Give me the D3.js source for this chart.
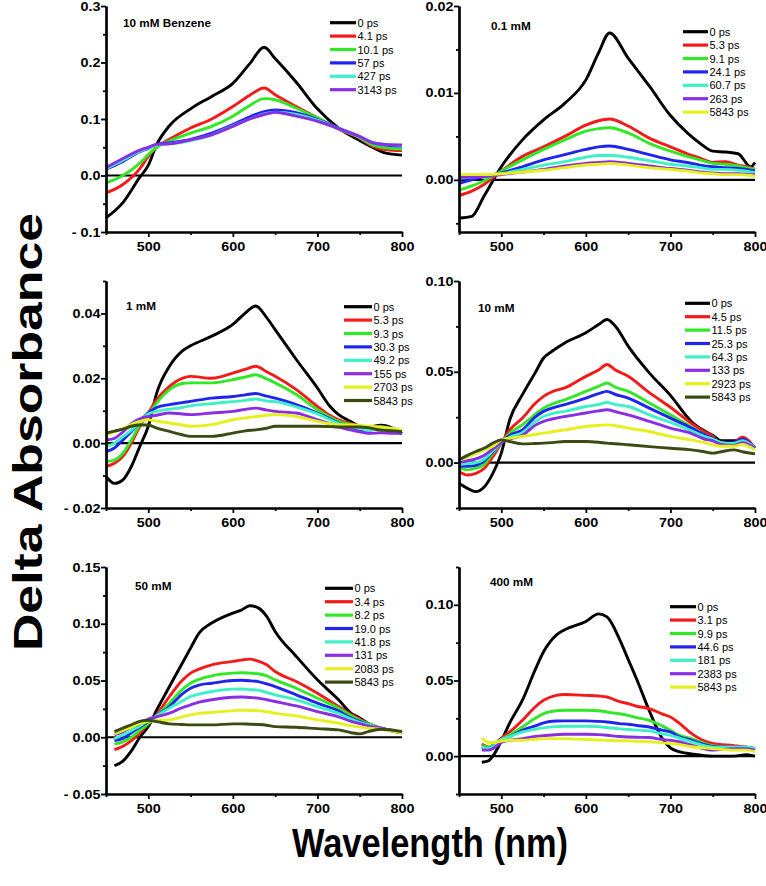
<!DOCTYPE html>
<html>
<head>
<meta charset="utf-8">
<script src="https://cdn.jsdelivr.net/npm/d3@7"></script>
<style>
  body { margin: 0; background: #fff; }
  svg { display: block; }
</style>
</head>
<body>
<div id="container"></div>
<script>
// trace colours, in legend order (0 ps first)
const traceColors = ["#000000", "#f51a1a", "#30e825", "#1f24ee", "#3ef0c6", "#8a2ee6", "#e6f01c", "#3a4a12"];

// 10 mM Benzene
const benzeneWl = [450,470,490,500,510,525,550,575,600,620,637,650,675,700,725,750,765,780,800];
const benzeneDelays = ["0 ps","4.1 ps","10.1 ps","57 ps","427 ps","3143 ps"];
const benzeneSpectra = [
  [-0.075,-0.048,-0.003,0.018,0.055,0.088,0.118,0.14,0.163,0.198,0.227,0.207,0.165,0.118,0.084,0.062,0.050,0.040,0.036],
  [-0.031,-0.016,0.012,0.034,0.05,0.064,0.084,0.1,0.122,0.142,0.155,0.143,0.122,0.102,0.082,0.066,0.052,0.046,0.044],
  [-0.013,0.0,0.022,0.037,0.05,0.061,0.075,0.087,0.105,0.124,0.136,0.134,0.119,0.102,0.083,0.067,0.054,0.049,0.047],
  [0.011,0.025,0.042,0.048,0.055,0.058,0.064,0.075,0.09,0.104,0.113,0.116,0.111,0.099,0.084,0.069,0.058,0.054,0.052],
  [0.012,0.027,0.043,0.049,0.054,0.056,0.062,0.072,0.088,0.1,0.109,0.112,0.108,0.098,0.083,0.069,0.058,0.055,0.053],
  [0.014,0.03,0.045,0.05,0.055,0.056,0.063,0.072,0.087,0.1,0.108,0.112,0.105,0.096,0.083,0.069,0.058,0.055,0.054]
];

// 0.1 mM
const mm01Wl = [450,465,480,500,525,550,575,600,615,628,650,675,700,720,735,750,765,780,795,800];
const mm01Delays = ["0 ps","5.3 ps","9.1 ps","24.1 ps","60.7 ps","263 ps","5843 ps"];
const mm01Spectra = [
  [-0.0044,-0.0042,-0.0018,0.0015,0.0046,0.0069,0.0088,0.0115,0.0146,0.0169,0.014,0.0108,0.0074,0.0054,0.0042,0.0033,0.0032,0.003,0.0015,0.002],
  [-0.0018,-0.0013,-0.0005,0.001,0.0027,0.0038,0.005,0.0063,0.0068,0.007,0.0062,0.0048,0.0038,0.003,0.0025,0.002,0.0021,0.0017,0.0014,0.0012],
  [-0.0012,-0.0007,-0.0001,0.001,0.0023,0.0035,0.0046,0.0056,0.0059,0.006,0.0054,0.0042,0.0033,0.0027,0.0023,0.0019,0.0018,0.0016,0.0013,0.0012],
  [-0.0004,0.0,0.0004,0.0008,0.0015,0.0023,0.0029,0.0035,0.0038,0.0039,0.0035,0.0029,0.0023,0.002,0.0017,0.0015,0.0014,0.0013,0.0011,0.001],
  [0.0002,0.0003,0.0005,0.0007,0.0012,0.0017,0.0021,0.0026,0.0028,0.0028,0.0026,0.0022,0.0018,0.0016,0.0014,0.0012,0.0012,0.0011,0.0009,0.0008],
  [0.0003,0.0003,0.0004,0.0006,0.0009,0.0012,0.0016,0.0019,0.002,0.0021,0.0019,0.0016,0.0013,0.0011,0.0009,0.0008,0.0007,0.0007,0.0006,0.0006],
  [0.0006,0.0006,0.0006,0.0007,0.0009,0.0011,0.0014,0.0017,0.0018,0.0019,0.0017,0.0014,0.0012,0.001,0.0008,0.0007,0.0006,0.0006,0.0005,0.0004]
];

// 1 mM
const mm1Wl = [450,460,470,480,490,500,510,525,540,550,575,600,615,627,640,650,675,700,715,725,740,750,760,775,790,800];
const mm1Delays = ["0 ps","5.3 ps","9.3 ps","30.3 ps","49.2 ps","155 ps","2703 ps","5843 ps"];
const mm1Spectra = [
  [-0.0103,-0.0124,-0.0113,-0.0072,-0.001,0.0052,0.0155,0.0237,0.0284,0.030,0.033,0.0366,0.0402,0.0423,0.0387,0.035,0.0258,0.017,0.0113,0.0088,0.0066,0.0052,0.005,0.0055,0.0045,0.003],
  [-0.0072,-0.0062,-0.0041,0.0,0.0052,0.0093,0.0134,0.0175,0.020,0.0206,0.020,0.0216,0.0228,0.0237,0.022,0.0206,0.0165,0.0113,0.0085,0.0072,0.006,0.0052,0.005,0.005,0.004,0.003],
  [-0.0057,-0.0052,-0.0031,0.001,0.0057,0.0088,0.0124,0.0165,0.0184,0.0186,0.0186,0.0196,0.0204,0.0211,0.0198,0.0186,0.015,0.0103,0.008,0.0067,0.0057,0.005,0.0048,0.005,0.004,0.003],
  [-0.0026,-0.0015,0.001,0.0036,0.0067,0.0093,0.011,0.0119,0.0125,0.0129,0.0139,0.0144,0.0149,0.0153,0.0145,0.0139,0.0119,0.0093,0.0075,0.0062,0.005,0.004,0.004,0.0045,0.0035,0.003],
  [-0.001,0.0,0.002,0.004,0.0065,0.009,0.0098,0.0105,0.011,0.0115,0.0122,0.0128,0.0132,0.0136,0.013,0.0128,0.0112,0.009,0.0072,0.006,0.005,0.0045,0.004,0.0045,0.0035,0.003],
  [0.001,0.0015,0.0035,0.006,0.0075,0.0082,0.0086,0.0093,0.009,0.0088,0.0093,0.0098,0.0104,0.0108,0.0102,0.0098,0.0093,0.0072,0.006,0.005,0.004,0.0035,0.003,0.0032,0.003,0.003],
  [0.0026,0.0035,0.0045,0.0058,0.0067,0.0072,0.0068,0.0062,0.0056,0.0052,0.0057,0.0072,0.0078,0.0082,0.0086,0.0088,0.0082,0.0067,0.006,0.0057,0.0056,0.0055,0.0052,0.005,0.0045,0.004],
  [0.0031,0.0037,0.0043,0.0052,0.0056,0.0056,0.0046,0.0036,0.0026,0.0021,0.0021,0.0031,0.0038,0.0041,0.0046,0.0052,0.0052,0.0052,0.0051,0.005,0.005,0.005,0.0048,0.004,0.0038,0.0035]
];

// 10 mM
const mm10Wl = [450,460,470,480,490,500,510,525,540,550,560,575,600,615,625,635,650,675,700,725,740,750,760,775,785,800];
const mm10Delays = ["0 ps","4.5 ps","11.5 ps","25.3 ps","64.3 ps","133 ps","2923 ps","5843 ps"];
const mm10Spectra = [
  [-0.0114,-0.0142,-0.016,-0.0133,-0.0059,0.0052,0.0236,0.0374,0.0494,0.0576,0.0613,0.0659,0.0715,0.076,0.0788,0.0751,0.0641,0.0494,0.037,0.0225,0.0175,0.015,0.012,0.012,0.013,0.008],
  [-0.005,-0.0068,-0.0059,-0.0031,0.0033,0.0107,0.018,0.0245,0.0325,0.0365,0.039,0.0411,0.0475,0.051,0.054,0.051,0.0475,0.0385,0.0305,0.0215,0.017,0.0145,0.01,0.011,0.014,0.008],
  [-0.0031,-0.004,-0.0031,-0.001,0.0052,0.0107,0.0162,0.0208,0.0265,0.030,0.0322,0.0346,0.0392,0.042,0.0438,0.0415,0.0392,0.0328,0.0263,0.0195,0.0155,0.0135,0.011,0.01,0.012,0.008],
  [-0.002,-0.002,-0.0015,0.001,0.006,0.011,0.015,0.018,0.025,0.0282,0.030,0.0319,0.0355,0.038,0.0392,0.0375,0.0355,0.030,0.0245,0.019,0.0155,0.0135,0.011,0.011,0.013,0.008],
  [-0.001,-0.0005,0.0,0.002,0.0065,0.011,0.014,0.0165,0.0225,0.0254,0.027,0.0282,0.0309,0.032,0.0331,0.032,0.0309,0.0263,0.0221,0.0175,0.0145,0.013,0.011,0.0105,0.012,0.008],
  [0.0,0.001,0.002,0.004,0.0075,0.011,0.013,0.015,0.0205,0.0227,0.024,0.0254,0.0273,0.0285,0.0291,0.028,0.0263,0.0227,0.019,0.016,0.013,0.012,0.01,0.0095,0.011,0.008],
  [0.0015,0.003,0.005,0.007,0.009,0.0125,0.0135,0.0144,0.0155,0.0162,0.017,0.018,0.0199,0.0205,0.0208,0.0203,0.019,0.0171,0.0144,0.0125,0.011,0.0098,0.009,0.009,0.01,0.007],
  [0.0015,0.004,0.0061,0.008,0.0107,0.0125,0.0116,0.0103,0.0105,0.0107,0.011,0.0116,0.0116,0.0112,0.0107,0.0104,0.0098,0.0088,0.0079,0.007,0.006,0.0052,0.006,0.007,0.006,0.0048]
];

// 50 mM
const mm50Wl = [460,470,480,490,500,510,525,540,550,560,575,600,610,620,630,640,650,675,700,725,740,750,760,775,800];
const mm50Delays = ["0 ps","3.4 ps","8.2 ps","19.0 ps","41.8 ps","131 ps","2083 ps","5843 ps"];
const mm50Spectra = [
  [-0.025,-0.021,-0.012,0.0,0.0094,0.024,0.0447,0.065,0.0785,0.0918,0.1006,0.1094,0.112,0.1159,0.114,0.1065,0.0932,0.0712,0.0506,0.033,0.021,0.017,0.012,0.008,0.004],
  [-0.011,-0.008,-0.003,0.004,0.012,0.02,0.0359,0.05,0.0565,0.06,0.0638,0.0668,0.068,0.0688,0.067,0.0638,0.0579,0.0491,0.0388,0.0271,0.02,0.016,0.012,0.008,0.004],
  [-0.006,-0.004,0.0,0.006,0.012,0.019,0.030,0.042,0.0476,0.051,0.0541,0.0565,0.0568,0.0565,0.056,0.054,0.0506,0.0432,0.0344,0.0256,0.019,0.015,0.012,0.008,0.004],
  [-0.003,-0.001,0.004,0.009,0.014,0.019,0.027,0.038,0.0432,0.046,0.0476,0.050,0.0502,0.0498,0.049,0.047,0.0447,0.0374,0.030,0.023,0.017,0.014,0.011,0.008,0.004],
  [-0.001,0.002,0.006,0.01,0.015,0.019,0.0256,0.032,0.0359,0.038,0.0403,0.0424,0.0425,0.042,0.0415,0.0395,0.0374,0.033,0.027,0.021,0.016,0.013,0.011,0.008,0.004],
  [0.002,0.005,0.009,0.012,0.016,0.018,0.0212,0.026,0.0285,0.031,0.033,0.0353,0.0355,0.035,0.0345,0.033,0.0315,0.0276,0.0226,0.018,0.014,0.012,0.01,0.008,0.004],
  [0.003,0.006,0.009,0.012,0.014,0.0148,0.0153,0.018,0.0197,0.021,0.0218,0.0235,0.0237,0.0236,0.0235,0.0225,0.0212,0.0188,0.0153,0.0124,0.01,0.009,0.008,0.007,0.004],
  [0.005,0.008,0.011,0.014,0.015,0.0138,0.0118,0.0112,0.0109,0.0109,0.0109,0.0118,0.0118,0.0115,0.0112,0.0106,0.0094,0.0088,0.0076,0.0065,0.004,0.003,0.005,0.007,0.005]
];

// 400 mM
const mm400Wl = [477,485,490,500,510,525,540,550,565,575,600,615,625,640,650,660,675,690,700,710,725,750,775,790,800];
const mm400Delays = ["0 ps","3.1 ps","9.9 ps","44.6 ps","181 ps","2383 ps","5843 ps"];
const mm400Spectra = [
  [-0.004,-0.003,0.0,0.01,0.022,0.037,0.057,0.069,0.08,0.0835,0.089,0.094,0.092,0.077,0.064,0.051,0.03,0.012,0.0055,0.003,0.0015,0.0,0.0,0.001,0.0],
  [0.008,0.006,0.007,0.012,0.016,0.0237,0.0325,0.0369,0.0402,0.0407,0.0402,0.0398,0.0391,0.036,0.0347,0.033,0.0314,0.028,0.0259,0.022,0.0149,0.0084,0.007,0.006,0.005],
  [0.007,0.006,0.007,0.011,0.014,0.0193,0.025,0.0281,0.030,0.0303,0.0303,0.030,0.0292,0.028,0.027,0.0255,0.0237,0.02,0.0171,0.014,0.0116,0.007,0.006,0.006,0.005],
  [0.006,0.005,0.006,0.011,0.013,0.0171,0.020,0.022,0.0232,0.0233,0.0233,0.023,0.0226,0.0215,0.0211,0.0203,0.0193,0.0172,0.016,0.013,0.0105,0.0065,0.006,0.006,0.005],
  [0.006,0.005,0.006,0.011,0.013,0.016,0.0178,0.0187,0.0195,0.0198,0.0198,0.0195,0.0189,0.018,0.0176,0.0172,0.0167,0.0148,0.0138,0.012,0.0095,0.006,0.006,0.006,0.005],
  [0.004,0.004,0.005,0.009,0.0105,0.0116,0.013,0.0136,0.0142,0.0145,0.0145,0.0142,0.0138,0.013,0.0127,0.0125,0.0123,0.011,0.0105,0.0095,0.0073,0.004,0.005,0.005,0.004],
  [0.012,0.009,0.009,0.010,0.0105,0.0105,0.0112,0.0116,0.0116,0.0116,0.011,0.0107,0.0105,0.0102,0.0101,0.0098,0.0095,0.0088,0.0084,0.0078,0.0062,0.005,0.004,0.004,0.003]
];

const xMajor = [500, 600, 700, 800];
const xMinor = [450, 550, 650, 750];

const w = 766;
const h = 886;
const font = "'Liberation Sans', Arial, sans-serif";
const stretch = 1.15;   // bold labels in the figure are drawn wide

// panel frames: plot area in pixels, y range, ticks, title and legend spots
const panels = [
  {title: "10 mM Benzene", wl: benzeneWl, delays: benzeneDelays, spectra: benzeneSpectra,
   x0: 106, x1: 402, y0: 6, y1: 232, yDom: [-0.1, 0.3], yMajor: [-0.1, 0, 0.1, 0.2, 0.3], yMinor: [-0.05, 0.05, 0.15, 0.25], dec: 1,
   tx: 123, ty: 27, lx: 330, lw: 26, ly: 22.7},
  {title: "0.1 mM", wl: mm01Wl, delays: mm01Delays, spectra: mm01Spectra,
   x0: 459, x1: 755, y0: 6, y1: 232, yDom: [-0.006, 0.02], yMajor: [0, 0.01, 0.02], yMinor: [-0.005, 0.005, 0.015], dec: 2,
   tx: 491, ty: 29.5, lx: 683, lw: 25, ly: 31.7},
  {title: "1 mM", wl: mm1Wl, delays: mm1Delays, spectra: mm1Spectra,
   x0: 106, x1: 402, y0: 281, y1: 508, yDom: [-0.02, 0.05], yMajor: [-0.02, 0, 0.02, 0.04], yMinor: [-0.01, 0.01, 0.03, 0.05], dec: 2,
   tx: 126, ty: 310, lx: 344, lw: 28, ly: 306.7},
  {title: "10 mM", wl: mm10Wl, delays: mm10Delays, spectra: mm10Spectra,
   x0: 459, x1: 755, y0: 281, y1: 508, yDom: [-0.025, 0.1], yMajor: [0, 0.05, 0.1], yMinor: [-0.025, 0.025, 0.075], dec: 2,
   tx: 478, ty: 312, lx: 685, lw: 25, ly: 303.3},
  {title: "50 mM", wl: mm50Wl, delays: mm50Delays, spectra: mm50Spectra,
   x0: 106, x1: 402, y0: 567, y1: 794, yDom: [-0.05, 0.15], yMajor: [-0.05, 0, 0.05, 0.1, 0.15], yMinor: [-0.025, 0.025, 0.075, 0.125], dec: 2,
   tx: 135, ty: 590, lx: 325, lw: 28, ly: 588.3},
  {title: "400 mM", wl: mm400Wl, delays: mm400Delays, spectra: mm400Spectra,
   x0: 459, x1: 755, y0: 567, y1: 794, yDom: [-0.025, 0.125], yMajor: [0, 0.05, 0.1], yMinor: [-0.025, 0.025, 0.075, 0.125], dec: 2,
   tx: 490, ty: 586, lx: 670, lw: 26, ly: 606.7}
];

const svg = d3.select("#container")
  .append("svg")
  .attr("width", w)
  .attr("height", h);

function styleAxis(g) {
  g.select(".domain").attr("stroke", "#000").attr("stroke-width", 2.2);
  g.selectAll(".tick line").attr("stroke", "#000").attr("stroke-width", 1.8);
}

panels.forEach(p => {
  const x = d3.scaleLinear().domain([450, 800]).range([p.x0, p.x1]);
  const y = d3.scaleLinear().domain(p.yDom).range([p.y1, p.y0]);
  const fmt = d => {
    const s = d3.format("." + p.dec + "f")(Math.abs(d));
    return d < -1e-9 ? "- " + s : s;
  };
  const g = svg.append("g");

  // zero line
  g.append("line")
    .attr("x1", x(450)).attr("x2", x(800))
    .attr("y1", y(0)).attr("y2", y(0))
    .attr("stroke", "#000").attr("stroke-width", 2.2);

  // spectra
  const line = d3.line()
    .x((d, i) => x(p.wl[i]))
    .y(d => y(d))
    .curve(d3.curveMonotoneX);
  p.spectra.forEach((s, k) => {
    g.append("path")
      .attr("d", line(s))
      .attr("fill", "none")
      .attr("stroke", traceColors[k])
      .attr("stroke-width", 2.9)
      .attr("stroke-linejoin", "round");
  });

  // axes
  const yAx = g.append("g").attr("transform", "translate(" + p.x0 + ",0)")
    .call(d3.axisLeft(y).tickValues(p.yMajor).tickFormat(fmt).tickSize(5).tickSizeOuter(0));
  styleAxis(yAx);
  yAx.selectAll("text")
    .attr("x", -5.5 / stretch)
    .attr("transform", "scale(" + stretch + ",1)")
    .style("font", "bold 12.5px " + font)
    .attr("fill", "#000");
  const yMin = g.append("g").attr("transform", "translate(" + p.x0 + ",0)")
    .call(d3.axisLeft(y).tickValues(p.yMinor).tickFormat("").tickSize(3).tickSizeOuter(0));
  styleAxis(yMin);

  const xAx = g.append("g").attr("transform", "translate(0," + p.y1 + ")")
    .call(d3.axisBottom(x).tickValues(xMajor).tickFormat(d3.format("d")).tickSize(5).tickSizeOuter(0));
  styleAxis(xAx);
  xAx.selectAll("text")
    .attr("y", 10)
    .attr("transform", "scale(" + stretch + ",1)")
    .style("font", "bold 12.5px " + font)
    .attr("fill", "#000");
  const xMin = g.append("g").attr("transform", "translate(0," + p.y1 + ")")
    .call(d3.axisBottom(x).tickValues(xMinor).tickFormat("").tickSize(3).tickSizeOuter(0));
  styleAxis(xMin);

  // panel title
  g.append("text")
    .attr("transform", "translate(" + p.tx + "," + p.ty + ") scale(" + stretch + ",1)")
    .style("font", "bold 10.2px " + font)
    .text(p.title);

  // legend
  p.delays.forEach((lab, k) => {
    const ly = p.ly + k * 13.4;
    g.append("line")
      .attr("x1", p.lx).attr("x2", p.lx + p.lw)
      .attr("y1", ly).attr("y2", ly)
      .attr("stroke", traceColors[k]).attr("stroke-width", 3.2);
    g.append("text")
      .attr("x", p.lx + p.lw + 1.5)
      .attr("y", ly + 4)
      .style("font", "11px " + font)
      .text(lab);
  });
});

// shared axis titles
svg.append("text")
  .attr("transform", "translate(42,432) rotate(-90)")
  .attr("text-anchor", "middle")
  .attr("textLength", 438)
  .attr("lengthAdjust", "spacingAndGlyphs")
  .style("font", "bold 40px " + font)
  .text("Delta Absorbance");

svg.append("text")
  .attr("x", 430)
  .attr("y", 857)
  .attr("text-anchor", "middle")
  .attr("textLength", 276)
  .attr("lengthAdjust", "spacingAndGlyphs")
  .style("font", "bold 40px " + font)
  .text("Wavelength (nm)");
</script>
</body>
</html>
